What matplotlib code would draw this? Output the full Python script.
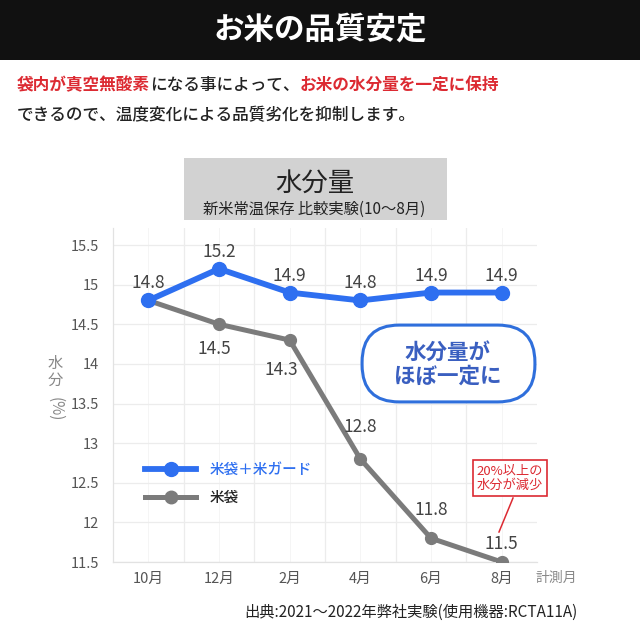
"""
お米の品質安定: 水分量の推移 (米袋+米ガード vs 米袋)
"""

import matplotlib
matplotlib.use("Agg")
import matplotlib.pyplot as plt
from matplotlib.patches import Rectangle, FancyBboxPatch
from matplotlib.lines import Line2D

plt.rcParams['font.family'] = ['Noto Sans CJK JP', 'DejaVu Sans']

# data
months = ['10月', '12月', '2月', '4月', '6月', '8月']
guard = [14.8, 15.2, 14.9, 14.8, 14.9, 14.9]
plain = [14.8, 14.5, 14.3, 12.8, 11.8, 11.5]
guard_label = '米袋＋米ガード'
plain_label = '米袋'
yticks = [11.5, 12, 12.5, 13, 13.5, 14, 14.5, 15, 15.5]

BLUE = '#2e6ff0'
GRAY = '#7b7b7b'
RED = '#dc2a32'
W = H = 640


def fx(px):
    return px / W


def fy(py):
    return 1 - py / H


fig = plt.figure(figsize=(6.4, 6.4), dpi=100)
fig.patch.set_facecolor('white')

# header band
fig.patches.append(Rectangle((0, fy(60)), 1, 60 / H, transform=fig.transFigure,
                             facecolor='#111111', edgecolor='none', zorder=0))
fig.text(0.5, fy(30), 'お米の品質安定', color='white', fontsize=22,
         fontweight='bold', ha='center', va='center')

# intro text, full-width characters so each one takes one em
cw = 16.6
segments1 = [('袋内が真空無酸素', RED, 'bold'),
             ('になる事によって、', '#222222', 'medium'),
             ('お米の水分量を一定に保持', RED, 'bold')]
x = 17
for s, c, w in segments1:
    fig.text(fx(x), fy(85), s, color=c, fontsize=12, fontweight=w,
             ha='left', va='center')
    x += cw * len(s)
fig.text(fx(17), fy(115), 'できるので、温度変化による品質劣化を抑制します。',
         color='#222222', fontsize=12, fontweight='medium', ha='left', va='center')

# chart title box
fig.patches.append(Rectangle((fx(184), fy(220)), (447 - 184) / W, (220 - 158) / H,
                             transform=fig.transFigure, facecolor='#d2d2d2',
                             edgecolor='none', zorder=0))
fig.text(fx(315), fy(183), '水分量', fontsize=19, color='#222222',
         ha='center', va='center')
fig.text(fx(314), fy(209), '新米常温保存 比較実験(10〜8月)', fontsize=11,
         color='#222222', ha='center', va='center')

# axes
ax = fig.add_axes([fx(113), fy(562), (537 - 113) / W, (562 - 228) / H])
xs = list(range(len(months)))
ax.set_xlim(-0.5, len(months) - 0.5)
ax.set_ylim(11.5, 15.5 + (245 - 228) / 79.25)

ax.plot(xs, plain, color=GRAY, lw=3.6, marker='o', ms=8.5, zorder=3,
        solid_capstyle='round')
ax.plot(xs, guard, color=BLUE, lw=4.2, marker='o', ms=10, zorder=4,
        solid_capstyle='round')

# value labels
for i, v in enumerate(guard):
    ax.annotate(f'{v}', (i, v), xytext=(0, 17), textcoords='offset pixels',
                ha='center', va='center', fontsize=12.5, color='#444444')
plain_offsets = [None, (-5, -25), (-8, -30), (0, 32), (0, 28), (0, 18)]
for i, v in enumerate(plain):
    if plain_offsets[i] is None:
        continue
    ax.annotate(f'{v}', (i, v), xytext=plain_offsets[i],
                textcoords='offset pixels', ha='center', va='center',
                fontsize=12.5, color='#444444')

ax.set_xticks(xs)
ax.set_xticklabels(months)
ax.set_xticks([i + 0.5 for i in xs[:-1]], minor=True)
ax.set_yticks(yticks)
ax.set_yticklabels([f'{t:g}' for t in yticks])
ax.tick_params(axis='both', length=0, labelsize=10.5, labelcolor='#555555')
ax.tick_params(axis='x', pad=7)
ax.tick_params(axis='y', pad=10)
ax.tick_params(which='minor', length=0)
ax.grid(True, which='major', axis='y', color='#ececec', lw=0.9)
ax.grid(True, which='minor', axis='x', color='#ececec', lw=0.9)
ax.grid(True, which='major', axis='x', color='#f5f5f5', lw=0.7)
ax.set_axisbelow(True)
for side in ['top', 'right']:
    ax.spines[side].set_visible(False)
for side in ['left', 'bottom']:
    ax.spines[side].set_color('#e2e2e2')
    ax.spines[side].set_linewidth(0.9)

# y label, vertical writing
fig.text(fx(55), fy(372), '水\n分', fontsize=11, color='#888888',
         ha='center', va='center', linespacing=0.95)
fig.text(fx(55), fy(409), '(%)', fontsize=11, color='#888888',
         ha='center', va='center', rotation=-90)
fig.text(fx(556), fy(578), '計測月', fontsize=10, color='#888888',
         ha='center', va='center')

# legend
handles = [Line2D([], [], color=BLUE, lw=4.2, marker='o', ms=10),
           Line2D([], [], color=GRAY, lw=3.6, marker='o', ms=9)]
leg = ax.legend(handles, [guard_label, plain_label], loc='upper left',
                bbox_to_anchor=(fx(145), fy(463)), bbox_transform=fig.transFigure,
                frameon=False, fontsize=10.5, handlelength=3.5,
                handletextpad=0.9, labelspacing=0.95, borderpad=0,
                borderaxespad=0)
leg.get_texts()[0].set_color(BLUE)
leg.get_texts()[1].set_color('#222222')
for t in leg.get_texts():
    t.set_fontweight('medium')

# rounded callout
fig.patches.append(FancyBboxPatch((fx(380), fy(384)), (517 - 380) / W, (384 - 343) / H,
                                  boxstyle='round,pad=0.028,rounding_size=0.058',
                                  transform=fig.transFigure, facecolor='white',
                                  edgecolor='#2f6fdc', lw=2.2, zorder=5))
fig.text(fx(448), fy(364), '水分量が\nほぼ一定に', fontsize=15.5, color='#3a5fc0',
         fontweight='bold', ha='center', va='center', linespacing=1.15, zorder=6)

# red note
fig.text(fx(510), fy(478), '20%以上の\n水分が減少', fontsize=9.5, color=RED,
         ha='center', va='center', linespacing=1.15,
         bbox=dict(boxstyle='square,pad=0.3', facecolor='white',
                   edgecolor=RED, lw=1.2))
fig.add_artist(Line2D([fx(513), fx(499)], [fy(498), fy(532)],
                      transform=fig.transFigure, color=RED, lw=1.1))

fig.text(fx(578), fy(612), '出典:2021〜2022年弊社実験(使用機器:RCTA11A)',
         fontsize=11, color='#222222', ha='right', va='center')

fig.savefig('out.png', dpi=100)
